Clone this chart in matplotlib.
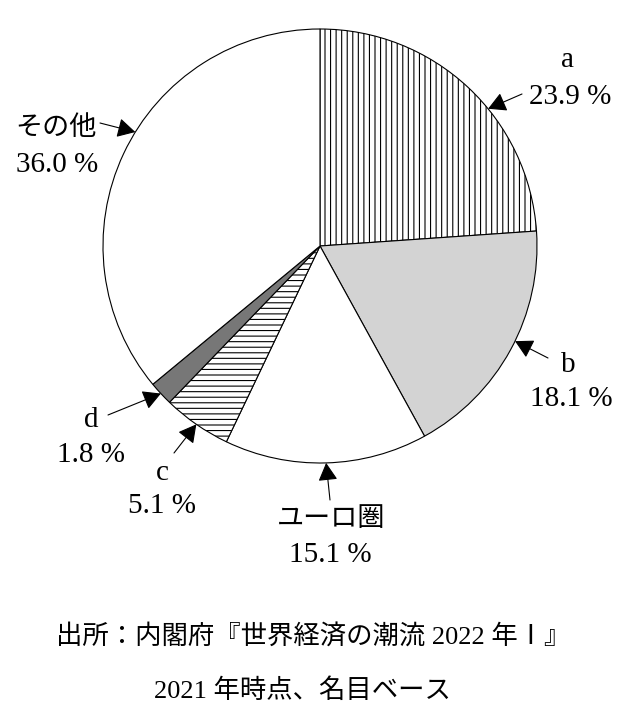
import numpy as np
import matplotlib
matplotlib.use('Agg')
import matplotlib.pyplot as plt

plt.rcParams['font.family'] = ['Liberation Serif', 'Noto Sans CJK JP']
plt.rcParams['hatch.linewidth'] = 0.8
plt.rcParams['hatch.color'] = 'black'

# data (clockwise from 12 o'clock)
names = ['a', 'b', 'ユーロ圏', 'c', 'd', 'その他']
shares = [23.9, 18.1, 15.1, 5.1, 1.8, 36.0]
fill_colors = ['white', '#d3d3d3', 'white', 'white', '#777777', 'white']
hatches = ['|||', '', '', '---', '', '']

source_lines = ['出所：内閣府『世界経済の潮流 2022 年Ⅰ』', '2021 年時点、名目ベース']

# layout in pixel units (y up): name pos, value pos, arrow tail, where on wedge the arrow hits
name_pos = [(568, 650), (568, 345), (331, 191), (162, 237), (91, 290), (56, 582)]
value_pos = [(570, 613), (571, 311), (330, 155), (162, 204), (91, 255), (57, 545)]
tail_pos = [(522, 623), (548, 359), (330, 217), (174, 264), (108, 302), (100, 594)]
hit_frac = [0.41, 0.54, 0.5, 0.5, 0.5, 0.45]

fig = plt.figure(figsize=(6.28, 7.17), dpi=100)
ax = fig.add_axes([0, 0, 1, 1])

cx, cy, r = 320, 471, 217
wedges, _ = ax.pie(shares, colors=fill_colors, hatch=hatches, startangle=90,
                   counterclock=False, center=(cx, cy), radius=r,
                   wedgeprops=dict(edgecolor='black', linewidth=0.8))
ax.set_xlim(0, 628)
ax.set_ylim(0, 717)
ax.axis('off')

for i, w in enumerate(wedges):
    ang = np.deg2rad(w.theta1 + hit_frac[i] * (w.theta2 - w.theta1))
    tip = (cx + r * np.cos(ang), cy + r * np.sin(ang))
    ax.annotate('', xy=tip, xytext=tail_pos[i],
                arrowprops=dict(arrowstyle='-|>,head_length=0.55,head_width=0.3',
                                color='black', lw=0.8,
                                mutation_scale=20, shrinkA=0, shrinkB=0))
    fs = 21 if names[i].isascii() else 19.5
    ax.text(*name_pos[i], names[i], ha='center', va='baseline', fontsize=fs)
    ax.text(*value_pos[i], f'{shares[i]:.1f} %', ha='center', va='baseline', fontsize=21)

ax.text(313, 73, source_lines[0], ha='center', va='baseline', fontsize=19)
ax.text(302, 19, source_lines[1], ha='center', va='baseline', fontsize=19)

fig.savefig('out.png', dpi=100)
